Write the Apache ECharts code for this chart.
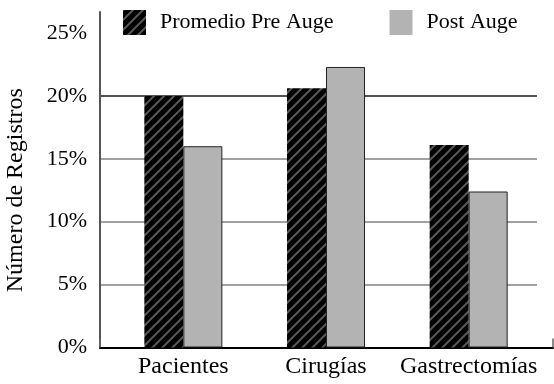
<!DOCTYPE html>
<html>
<head>
<meta charset="utf-8">
<script src="https://cdn.jsdelivr.net/npm/echarts@6/dist/echarts.min.js"></script>
<style>
  html, body { margin: 0; padding: 0; background: #fff; }
  #chart { width: 554px; height: 384px; }
</style>
</head>
<body>
<div id="chart"></div>
<script>
const categories = ['Pacientes', 'Cirugías', 'Gastrectomías'];
const seriesNames = ['Promedio Pre Auge', 'Post Auge'];
const preAuge = [20, 20.6, 16.1];
const postAuge = [16, 22.3, 12.4];
const yTicks = [0, 5, 10, 15, 20, 25];

const FONT = 'Liberation Serif';
const yMin = yTicks[0];
const yMax = yTicks[yTicks.length - 1];
const yStep = yTicks[1] - yTicks[0];

// black bar with grey diagonal stripes
const makeHatch = () => {
  const c = document.createElement('canvas');
  c.width = 10;
  c.height = 10;
  const ctx = c.getContext('2d');
  ctx.fillStyle = '#000';
  ctx.fillRect(0, 0, 10, 10);
  ctx.strokeStyle = '#585858';
  ctx.lineWidth = 2;
  ctx.beginPath();
  ctx.moveTo(-2, 12); ctx.lineTo(12, -2);
  ctx.moveTo(-2, 2); ctx.lineTo(2, -2);
  ctx.moveTo(8, 12); ctx.lineTo(12, 8);
  ctx.stroke();
  return c;
};

const chart = echarts.init(document.getElementById('chart'));

const option = {
  animation: false,
  backgroundColor: '#fff',
  legend: {
    left: 123,
    top: 10,
    padding: 0,
    icon: 'rect',
    itemWidth: 23,
    itemHeight: 25,
    itemGap: 56,
    textStyle: { fontFamily: FONT, fontSize: 22, color: '#000', padding: [4, 0, 0, 9] },
    data: seriesNames.map(n => ({ name: n, itemStyle: { borderWidth: 0 } })),
  },
  grid: [
    { left: 100, right: 17, top: 33, bottom: 36.5, outerBoundsMode: 'none' }, // grid lines + tick labels
    { left: 100, right: 1, top: 12, bottom: 36.5, outerBoundsMode: 'none' },  // axis frame
    { left: 112, right: 14, top: 33, bottom: 36.5, outerBoundsMode: 'none' }, // bars
  ],
  xAxis: [
    { gridIndex: 0, type: 'category', data: categories, show: false },
    {
      gridIndex: 1,
      type: 'value',
      min: 0,
      max: 1,
      interval: 1,
      axisLine: { show: true, lineStyle: { color: '#000', width: 2 } },
      axisTick: { show: true, inside: true, length: 9, lineStyle: { color: '#666', width: 1.5 } },
      axisLabel: { show: false },
      splitLine: { show: false },
    },
    {
      gridIndex: 2,
      type: 'category',
      data: categories,
      axisLine: { show: false },
      axisTick: { show: false },
      axisLabel: { interval: 0, fontFamily: FONT, fontSize: 24, color: '#000', margin: 7 },
    },
  ],
  yAxis: [
    {
      gridIndex: 0,
      type: 'value',
      min: yMin,
      max: yMax,
      interval: yStep,
      name: 'Número de Registros',
      nameLocation: 'middle',
      nameGap: 72,
      nameRotate: 90,
      nameTextStyle: { fontFamily: FONT, fontSize: 24, color: '#000' },
      axisLine: { show: false },
      axisTick: { show: false },
      axisLabel: { formatter: '{value}%', fontFamily: FONT, fontSize: 22, color: '#000', margin: 13 },
      splitLine: {
        lineStyle: {
          color: ['transparent', '#808080', '#808080', '#808080', '#1a1a1a', 'transparent'],
          width: 1.5,
        },
      },
    },
    {
      gridIndex: 1,
      type: 'value',
      min: 0,
      max: 1,
      axisLine: { show: true, lineStyle: { color: '#555', width: 2 } },
      axisTick: { show: false },
      axisLabel: { show: false },
      splitLine: { show: false },
    },
    { gridIndex: 2, type: 'value', min: yMin, max: yMax, interval: yStep, show: false },
  ],
  series: [
    {
      name: seriesNames[0],
      type: 'bar',
      xAxisIndex: 2,
      yAxisIndex: 2,
      barWidth: 39,
      barGap: '0%',
      itemStyle: { color: { image: makeHatch(), repeat: 'repeat' } },
      data: preAuge,
    },
    {
      name: seriesNames[1],
      type: 'bar',
      xAxisIndex: 2,
      yAxisIndex: 2,
      barWidth: 39,
      barGap: '0%',
      itemStyle: { color: '#b3b3b3', borderColor: '#222', borderWidth: 1 },
      data: postAuge,
    },
  ],
};

chart.setOption(option);
</script>
</body>
</html>
